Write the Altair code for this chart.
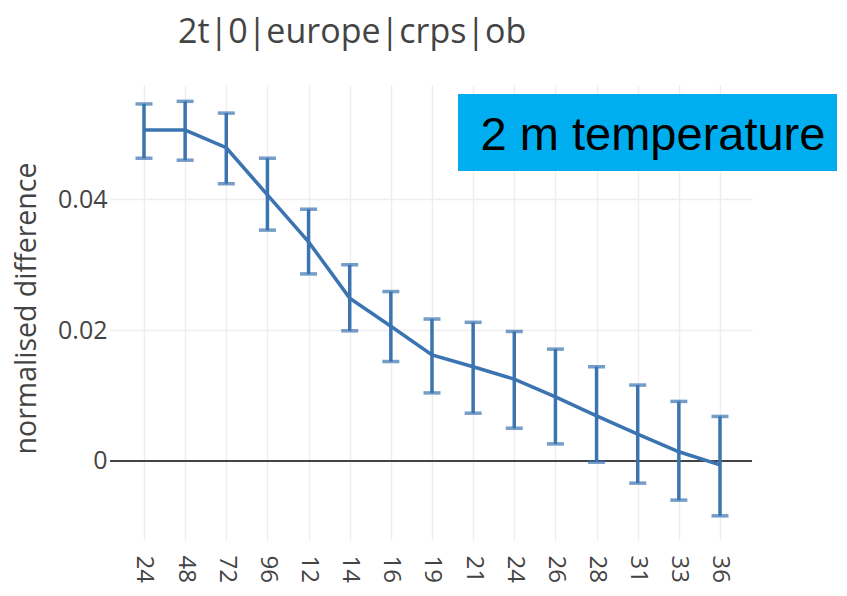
import altair as alt
import pandas as pd

# forecast steps (hours)
steps = [24, 48, 72, 96, 120, 144, 168, 192, 216, 240, 264, 288, 312, 336, 360]
# normalised difference (centre) and error-bar bounds
mean = [0.0506, 0.0506, 0.0479, 0.0407, 0.0335, 0.0249, 0.0206, 0.0162, 0.0144,
        0.0125, 0.0098, 0.0069, 0.0041, 0.0014, -0.0006]
upper = [0.0546, 0.0550, 0.0532, 0.0463, 0.0385, 0.0300, 0.0259, 0.0217, 0.0212,
         0.0198, 0.0171, 0.0144, 0.0116, 0.0091, 0.0068]
lower = [0.0463, 0.0460, 0.0424, 0.0353, 0.0286, 0.0199, 0.0152, 0.0104, 0.0073,
         0.0050, 0.0026, -0.0002, -0.0034, -0.0060, -0.0084]
y_ticks = [0, 0.02, 0.04]
title_text = "2t|0|europe|crps|ob"
y_title = "normalised difference"
badge_text = ["2 m temperature"]

df = pd.DataFrame({"step": steps, "mean": mean, "upper": upper, "lower": lower})

BLUE = "#3b74b0"
FONT = "Open Sans"

x_scale = alt.Scale(domain=[4.17, 378.67], nice=False, zero=False)
y_scale = alt.Scale(domain=[-0.0121, 0.0575], nice=False, zero=False)

x_enc = alt.X(
    "step:Q", scale=x_scale,
    axis=alt.Axis(values=steps, title=None, labelAngle=90, labelAlign="left",
                  labelBaseline="middle", labelPadding=15, labelFontSize=24,
                  labelFont=FONT, labelColor="#444", ticks=False, domain=False,
                  grid=True, gridColor="#eeeeee", gridWidth=1.5, labelFlush=False,
                  labelOverlap=False),
)
y_axis = alt.Axis(values=y_ticks, title=y_title, labelFontSize=25, labelFont=FONT,
                  labelColor="#444", labelPadding=3, ticks=False, domain=False,
                  grid=True, gridColor="#eeeeee", gridWidth=1.5,
                  labelExpr="datum.value == 0 ? '0' : format(datum.value, '.2f')",
                  titleFont=FONT, titleFontSize=28.5, titleFontWeight="normal",
                  titleColor="#444", titleX=-84, titleY=223, titleAngle=270,
                  titleAlign="center", titleBaseline="middle")

base = alt.Chart(df)

line = base.mark_line(color=BLUE, strokeWidth=3.5).encode(
    x=x_enc, y=alt.Y("mean:Q", scale=y_scale, axis=y_axis)
)
bars = base.mark_rule(color=BLUE, strokeWidth=3.5).encode(
    x="step:Q", y="lower:Q", y2="upper:Q"
)
cap_hi = base.mark_tick(color=BLUE, orient="horizontal", size=17, thickness=3.5).encode(
    x="step:Q", y="upper:Q"
)
cap_lo = base.mark_tick(color=BLUE, orient="horizontal", size=17, thickness=3.5).encode(
    x="step:Q", y="lower:Q"
)
zero = alt.Chart(pd.DataFrame({"z": [0]})).mark_rule(color="#444", strokeWidth=2).encode(
    y="z:Q"
)

badge_df = pd.DataFrame({"label": badge_text})
badge_box = alt.Chart(badge_df).mark_rect(color="#00AEEF").encode(
    x=alt.value(348), x2=alt.value(729), y=alt.value(9), y2=alt.value(86)
)
badge_label = alt.Chart(badge_df).mark_text(
    font="Liberation Sans", fontSize=47, color="black", align="center",
    baseline="alphabetic"
).encode(x=alt.value(543), y=alt.value(65), text="label:N")

chart = alt.layer(zero, bars, cap_hi, cap_lo, line, badge_box, badge_label).properties(
    width=642, height=455,
    title=alt.Title(title_text, anchor="start", dx=166, offset=35, fontSize=34,
                    font=FONT, fontWeight="normal", color="#444"),
    autosize=alt.AutoSizeParams(type="none"),
    padding={"left": 102, "top": 77, "right": 85, "bottom": 43},
).configure_view(stroke=None)

chart.save("out.html", embed_options={"renderer": "svg", "actions": False})
